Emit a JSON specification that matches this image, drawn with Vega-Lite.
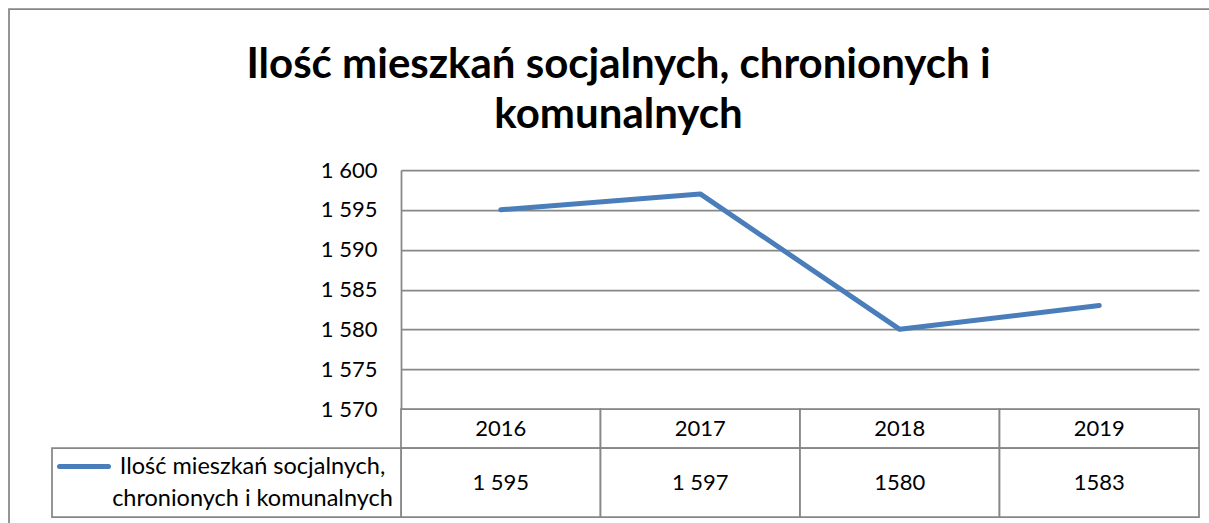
{
  "$schema": "https://vega.github.io/schema/vega-lite/v6.json",
  "width": 1201,
  "height": 515,
  "padding": {"left": 9, "top": 9, "right": 0, "bottom": 0},
  "background": "white",
  "config": {
    "view": {"stroke": "#878787", "strokeWidth": 1.75},
    "font": "Lato",
    "text": {"font": "Lato", "fontSize": 22, "color": "black"}
  },
  "title": {
    "text": ["Ilość mieszkań socjalnych, chronionych i", "komunalnych"],
    "font": "Lato",
    "fontSize": 42,
    "fontWeight": "bold",
    "color": "black",
    "anchor": "middle",
    "frame": "group",
    "offset": -128,
    "dx": 9,
    "lineHeight": 50
  },
  "datasets": {
    "years": [
      {"year": "2016", "value": 1595, "label": "1 595"},
      {"year": "2017", "value": 1597, "label": "1 597"},
      {"year": "2018", "value": 1580, "label": "1580"},
      {"year": "2019", "value": 1583, "label": "1583"}
    ],
    "series": [
      {"series": "Ilość mieszkań socjalnych,\nchronionych i komunalnych"}
    ]
  },
  "resolve": {
    "scale": {"x": "independent", "y": "independent"},
    "axis": {"x": "independent", "y": "independent"}
  },
  "layer": [
    {
      "data": {"name": "years"},
      "mark": {"type": "line", "color": "#4a7ebb", "strokeWidth": 5, "strokeCap": "round", "strokeJoin": "round"},
      "encoding": {
        "x": {
          "field": "year", "type": "ordinal",
          "scale": {"type": "band", "range": [392, 1190], "paddingInner": 0, "paddingOuter": 0},
          "axis": null
        },
        "y": {
          "field": "value", "type": "quantitative",
          "scale": {"domain": [1570, 1600], "range": [400, 161], "zero": false, "nice": false},
          "axis": {
            "orient": "left",
            "offset": -392,
            "values": [1570, 1575, 1580, 1585, 1590, 1595, 1600],
            "labelExpr": "replace(format(datum.value, ','), ',', ' ')",
            "grid": true,
            "gridColor": "#878787",
            "gridWidth": 1.75,
            "domain": true,
            "domainColor": "#878787",
            "domainWidth": 1.75,
            "ticks": false,
            "labelFont": "Lato",
            "labelFontSize": 22,
            "labelColor": "black",
            "labelPadding": 24,
            "title": null
          }
        }
      }
    },
    {
      "data": {"name": "years"},
      "encoding": {
        "x": {
          "field": "year", "type": "ordinal",
          "scale": {"type": "band", "range": [392, 1190], "paddingInner": 0, "paddingOuter": 0},
          "axis": null
        },
        "y": {
          "datum": "header", "type": "nominal",
          "scale": {"type": "band", "range": [400, 439], "paddingInner": 0, "paddingOuter": 0},
          "axis": null
        }
      },
      "layer": [
        {"mark": {"type": "rect", "fill": "white", "stroke": "#878787", "strokeWidth": 1.75}},
        {"mark": {"type": "text", "align": "center", "baseline": "middle"}, "encoding": {"text": {"field": "year"}}}
      ]
    },
    {
      "data": {"name": "years"},
      "encoding": {
        "x": {
          "field": "year", "type": "ordinal",
          "scale": {"type": "band", "range": [392, 1190], "paddingInner": 0, "paddingOuter": 0},
          "axis": null
        },
        "y": {
          "datum": "values", "type": "nominal",
          "scale": {"type": "band", "range": [439, 508], "paddingInner": 0, "paddingOuter": 0},
          "axis": null
        }
      },
      "layer": [
        {"mark": {"type": "rect", "fill": "white", "stroke": "#878787", "strokeWidth": 1.75}},
        {"mark": {"type": "text", "align": "center", "baseline": "middle"}, "encoding": {"text": {"field": "label"}}}
      ]
    },
    {
      "data": {"name": "series"},
      "encoding": {
        "x": {
          "field": "series", "type": "nominal",
          "scale": {"type": "band", "range": [43, 392], "paddingInner": 0, "paddingOuter": 0},
          "axis": null
        },
        "y": {
          "datum": "values", "type": "nominal",
          "scale": {"type": "band", "range": [439, 508], "paddingInner": 0, "paddingOuter": 0},
          "axis": null
        }
      },
      "layer": [
        {"mark": {"type": "rect", "fill": "white", "stroke": "#878787", "strokeWidth": 1.75}},
        {"mark": {"type": "point", "shape": "stroke", "size": 2401, "strokeWidth": 5, "strokeCap": "round", "color": "#4a7ebb", "filled": false, "opacity": 1, "xOffset": -142.5, "yOffset": -16}},
        {"mark": {"type": "text", "align": "center", "baseline": "middle", "lineBreak": "\n", "lineHeight": 32, "fontSize": 23.5, "dx": 26, "dy": -16}, "encoding": {"text": {"field": "series"}}}
      ]
    }
  ]
}
